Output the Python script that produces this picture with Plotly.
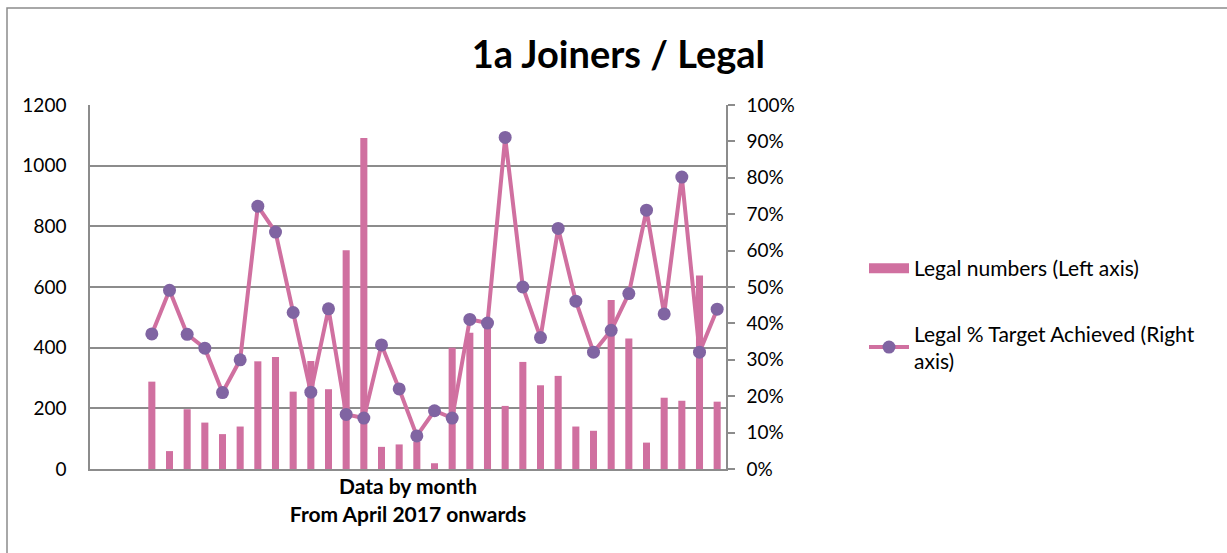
import plotly.graph_objects as go

months = [
    "Apr 2017", "May 2017", "Jun 2017", "Jul 2017", "Aug 2017", "Sep 2017", "Oct 2017", "Nov 2017",
    "Dec 2017", "Jan 2018", "Feb 2018", "Mar 2018", "Apr 2018", "May 2018", "Jun 2018", "Jul 2018",
    "Aug 2018", "Sep 2018", "Oct 2018", "Nov 2018", "Dec 2018", "Jan 2019", "Feb 2019", "Mar 2019",
    "Apr 2019", "May 2019", "Jun 2019", "Jul 2019", "Aug 2019", "Sep 2019", "Oct 2019", "Nov 2019",
    "Dec 2019",
]
legal_numbers = [
    288, 59, 197, 153, 115, 140, 355, 369, 255, 356, 263, 721, 1091, 73, 81, 90,
    19, 400, 449, 480, 208, 353, 276, 307, 140, 126, 557, 430, 87, 235, 225, 638, 222,
]
legal_pct = [
    0.371, 0.491, 0.370, 0.332, 0.210, 0.300, 0.722, 0.651, 0.430, 0.211, 0.440, 0.150, 0.140,
    0.341, 0.220, 0.091, 0.160, 0.140, 0.411, 0.401, 0.911, 0.500, 0.361, 0.661, 0.461, 0.321,
    0.381, 0.482, 0.711, 0.426, 0.802, 0.321, 0.439,
]

PINK = "#D070A0"
PURPLE = "#8064A2"
GRID = "#8C8C8C"
FONT = "Lato"

fig = go.Figure()
fig.add_trace(go.Bar(
    x=months, y=legal_numbers, name="Legal numbers (Left axis)",
    marker=dict(color=PINK, line=dict(width=0)), width=0.4,
    legendgroup="a", showlegend=False,
))
# legend proxy giving the wide rectangular swatch of the bar series
fig.add_trace(go.Scatter(
    x=[None], y=[None], name="Legal numbers (Left axis)", mode="lines",
    line=dict(color=PINK, width=10), legendgroup="a", showlegend=True,
))
fig.add_trace(go.Scatter(
    x=months, y=legal_pct, name="Legal % Target Achieved (Right<br>axis)",
    yaxis="y2", mode="lines+markers",
    line=dict(color=PINK, width=4),
    marker=dict(color=PURPLE, size=13, line=dict(width=0)),
    legendgroup="b",
))

L, R, T, B = 90, 501, 105, 84
pw, ph = 1227 - L - R, 553 - T - B

fig.update_layout(
    width=1227, height=553,
    margin=dict(l=L, r=R, t=T, b=B),
    paper_bgcolor="white", plot_bgcolor="white",
    font=dict(family=FONT, size=19, color="#000000"),
    title=dict(text="<b>1a Joiners / Legal</b>", x=0.504, xref="container",
               y=1 - 55 / 553, yref="container", xanchor="center", yanchor="middle",
               font=dict(family=FONT, size=38, color="#000000")),
    showlegend=True,
    legend=dict(x=(864 - L) / pw, y=(469 - 248) / ph, xanchor="left", yanchor="top",
                font=dict(family=FONT, size=21), tracegroupgap=35,
                traceorder="grouped", itemwidth=40, bgcolor="rgba(0,0,0,0)"),
    xaxis=dict(type="category", range=[-3.5, len(months) - 0.5], showticklabels=False,
               showgrid=False, showline=True, linecolor=GRID, linewidth=1.5,
               ticks="", zeroline=False,
               title=dict(text="<b>Data by month<br>From April 2017 onwards</b>",
                          font=dict(family=FONT, size=21), standoff=10)),
    yaxis=dict(range=[0, 1200], dtick=200, showgrid=True, gridcolor=GRID, gridwidth=1.5,
               showline=True, linecolor=GRID, linewidth=1.5, zeroline=False,
               ticks="", ticklabelstandoff=18, tickfont=dict(family=FONT, size=19)),
    yaxis2=dict(range=[0, 1], dtick=0.1, tickformat=".0%", overlaying="y", side="right",
                showgrid=False, showline=True, linecolor=GRID, linewidth=1.5,
                ticks="outside", ticklen=7, tickcolor=GRID, tickwidth=1.5,
                zeroline=False, ticklabelstandoff=8, tickfont=dict(family=FONT, size=19)),
    shapes=[dict(type="rect", xref="paper", yref="paper",
                 x0=(7 - L) / pw, x1=(1240 - L) / pw,
                 y0=(469 - 560) / ph, y1=(469 - 8) / ph,
                 line=dict(color="#8C8C8C", width=1.5), fillcolor="rgba(0,0,0,0)", layer="below")],
)

fig.write_html("out.html", config={"displayModeBar": False},
               post_script="document.body.style.margin='0';document.body.style.overflow='hidden';")
